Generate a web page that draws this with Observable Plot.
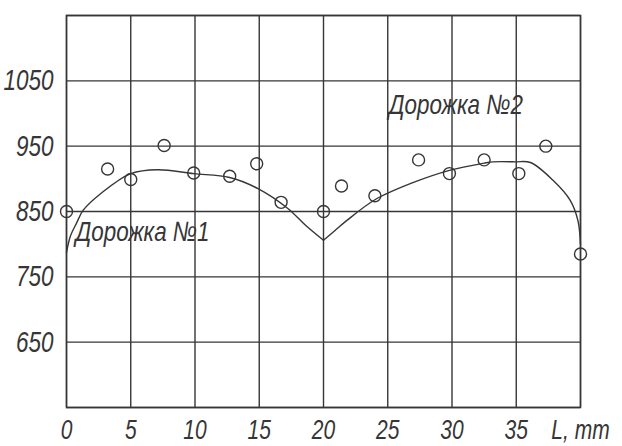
<!DOCTYPE html>
<html>
<head>
<meta charset="utf-8">
<script src="https://cdn.jsdelivr.net/npm/d3@7"></script>
<script src="https://cdn.jsdelivr.net/npm/@observablehq/plot@0.6"></script>
<style>
  html, body { margin: 0; padding: 0; background: #fff; }
  #chart svg { display: block; }
  #chart svg text { font-style: italic; }
</style>
</head>
<body>
<div id="chart"></div>
<script>
// Measured points (L, mm ; value)
const track1X = [0, 3.2, 5, 7.6, 9.9, 12.7, 14.8, 16.7, 20];
const track1Y = [850, 915, 899, 951, 909, 904, 923, 864, 850];
const track2X = [21.4, 24, 27.4, 29.8, 32.5, 35.2, 37.3, 40];
const track2Y = [889, 874, 929, 908, 929, 908, 950, 785];

// Fitted curves
const curve1X = [0, 0.3, 0.8, 1.3, 2.7, 5, 7.1, 9.9, 12.7, 14.9, 17.2, 18.6, 20];
const curve1Y = [787, 812, 833, 852, 878, 908, 914, 908, 902, 885, 855, 829, 806];
const curve2X = [20, 20.9, 21.8, 24, 26.8, 29.8, 32.5, 33.2, 34.9, 36.1, 37.9, 39.2, 39.8, 40];
const curve2Y = [806, 821, 836, 868, 893, 913, 924, 926, 926, 925, 897, 867, 836, 800];

// Axis ticks
const xTicks = [0, 5, 10, 15, 20, 25, 30, 35, 40];
const xTickLabels = ["0", "5", "10", "15", "20", "25", "30", "35", "L, mm"];
const yGrid = [550, 650, 750, 850, 950, 1050, 1150];
const yTicks = [650, 750, 850, 950, 1050];

// Labels
const label1 = {t: "Дорожка №1", x: 0.7, y: 819};
const label2 = {t: "Дорожка №2", x: 30.3, y: 1013};

const points = track1X.map((x, i) => ({x, y: track1Y[i]}))
  .concat(track2X.map((x, i) => ({x, y: track2Y[i]})));
const c1 = curve1X.map((x, i) => ({x, y: curve1Y[i]}));
const c2 = curve2X.map((x, i) => ({x, y: curve2Y[i]}));

const ink = "#363636";
const font = "'Liberation Sans', Arial, sans-serif";

const chart = Plot.plot({
  width: 622,
  height: 446,
  marginLeft: 66,
  marginRight: 42,
  marginTop: 15,
  marginBottom: 39,
  style: {background: "#fff", fontFamily: font, color: ink},
  x: {domain: [0, 40]},
  y: {domain: [550, 1150]},
  marks: [
    Plot.gridX(xTicks, {stroke: ink, strokeOpacity: 1, strokeWidth: 1.4}),
    Plot.gridY(yGrid, {stroke: ink, strokeOpacity: 1, strokeWidth: 1.4}),
    Plot.frame({stroke: ink, strokeWidth: 1.5}),
    Plot.axisX(xTicks, {
      tickSize: 0, tickPadding: 12, fontSize: 28, fontStyle: "italic",
      fontFamily: font, fill: ink, label: null,
      tickFormat: (d) => xTickLabels[xTicks.indexOf(d)]
    }),
    Plot.axisY(yTicks, {
      tickSize: 0, tickPadding: 13, fontSize: 30, fontStyle: "italic",
      fontFamily: font, fill: ink, label: null,
      tickFormat: (d) => String(d)
    }),
    Plot.line(c1, {x: "x", y: "y", curve: "catmull-rom", stroke: ink, strokeWidth: 1.4}),
    Plot.line(c2, {x: "x", y: "y", curve: "catmull-rom", stroke: ink, strokeWidth: 1.4}),
    Plot.dot(points, {x: "x", y: "y", r: 6, stroke: ink, strokeWidth: 1.4, fill: "none"}),
    Plot.text([label1], {
      x: "x", y: "y", text: "t", textAnchor: "start",
      fontSize: 28, fontStyle: "italic", fontFamily: font, fill: ink
    }),
    Plot.text([label2], {
      x: "x", y: "y", text: "t", textAnchor: "middle",
      fontSize: 28, fontStyle: "italic", fontFamily: font, fill: ink
    })
  ]
});
document.getElementById("chart").append(chart);

// Narrow (condensed) lettering like the original figure
chart.querySelectorAll("text").forEach((t) => {
  const w = t.getComputedTextLength();
  const k = t.textContent.startsWith("Дорожка") ? 0.8 : 0.75;
  if (w > 0) {
    t.setAttribute("textLength", (w * k).toFixed(1));
    t.setAttribute("lengthAdjust", "spacingAndGlyphs");
  }
});
</script>
</body>
</html>
